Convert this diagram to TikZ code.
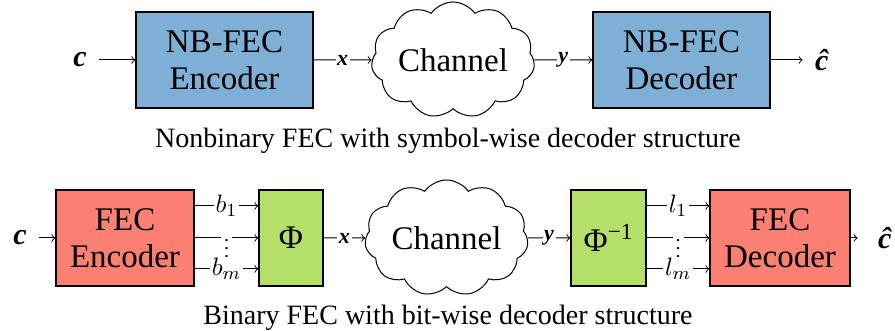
\documentclass[tikz,border=0pt]{standalone}
\usepackage{fontspec}
\setmainfont{Liberation Serif}
\usetikzlibrary{shapes.symbols}
\definecolor{nbblue}{RGB}{126,176,213}
\definecolor{fecred}{RGB}{250,128,114}
\definecolor{mapgreen}{RGB}{180,223,105}
\newcommand\mlab[1]{\scalebox{1.15}{$#1$}}
\begin{document}
\begin{tikzpicture}[x=0.5pt,y=-0.5pt,
  blk/.style={draw, line width=0.6pt, inner sep=0pt, align=center,
    font=\fontsize{16.5}{18.5}\selectfont},
  chan/.style={cloud, draw, line width=0.5pt, cloud puffs=11, cloud puff arc=110,
    aspect=1.6, inner sep=0pt, minimum width=78pt, minimum height=50pt,
    font=\fontsize{16.5}{18.5}\selectfont},
  lbl/.style={fill=white, inner sep=0.8pt, font=\fontsize{11}{12}\selectfont},
  dots/.style={fill=white, inner xsep=1.5pt, inner ysep=0pt, yshift=-2.5pt},
  io/.style={inner sep=6pt, font=\fontsize{15}{16}\selectfont},
  arr/.style={->, line width=0.5pt},
  captxt/.style={inner sep=0pt, font=\fontsize{14}{15}\selectfont}]
\useasboundingbox (0,0) rectangle (895,331);
% top row
\node[io] (c1) at (80,60) {\textbf{\textit{c}}};
\node[blk, fill=nbblue, minimum width=88.5pt, minimum height=48pt] (enc1) at (224.5,60) {NB-FEC\\Encoder};
\node[chan] (ch1) at (453,60) {Channel};
\node[blk, fill=nbblue, minimum width=88.5pt, minimum height=48pt] (dec1) at (681.5,60) {NB-FEC\\Decoder};
\node[io] (ch1o) at (822,60) {\textbf{\textit{\^c}}};
\draw[arr] (c1) -- (enc1);
\draw[arr] (enc1) -- node[lbl] {\textbf{\textit{x}}} (ch1);
\draw[arr] (ch1) -- node[lbl] {\textbf{\textit{y}}} (dec1);
\draw[arr] (dec1) -- (ch1o);
\node[captxt] (cap1) at (448,141) {Nonbinary FEC with symbol-wise decoder structure};
% bottom row
\node[io] (c2) at (20,238) {\textbf{\textit{c}}};
\node[blk, fill=fecred, minimum width=69pt, minimum height=48pt] (enc2) at (125,238) {FEC\\Encoder};
\node[blk, fill=mapgreen, minimum width=32pt, minimum height=48pt] (map) at (291,238) {Φ};
\node[chan, minimum width=76pt] (ch2) at (446.5,238) {Channel};
\node[blk, fill=mapgreen, minimum width=37.5pt, minimum height=48pt] (demap) at (608.5,238) {Φ\textsuperscript{−1}};
\node[blk, fill=fecred, minimum width=70pt, minimum height=48pt] (dec2) at (780,238) {FEC\\Decoder};
\node[io, inner sep=10pt] (c2o) at (885,238) {\textbf{\textit{\^c}}};
\draw[arr] (c2) -- (enc2);
\draw[arr] (enc2.east) -- node[dots] {$\vdots$} (map.west);
\draw[arr] (enc2.east |- 0,206) -- node[lbl] {\mlab{b_1}} (map.west |- 0,206);
\draw[arr] (enc2.east |- 0,269) -- node[lbl] {\mlab{b_m}} (map.west |- 0,269);
\draw[arr] (map) -- node[lbl] {\textbf{\textit{x}}} (ch2);
\draw[arr] (ch2) -- node[lbl] {\textbf{\textit{y}}} (demap);
\draw[arr] (demap.east) -- node[dots] {$\vdots$} (dec2.west);
\draw[arr] (demap.east |- 0,206) -- node[lbl] {\mlab{l_1}} (dec2.west |- 0,206);
\draw[arr] (demap.east |- 0,269) -- node[lbl] {\mlab{l_m}} (dec2.west |- 0,269);
\draw[arr] (dec2) -- (c2o);
\node[captxt] (cap2) at (448,318) {Binary FEC with bit-wise decoder structure};
\end{tikzpicture}
\end{document}
